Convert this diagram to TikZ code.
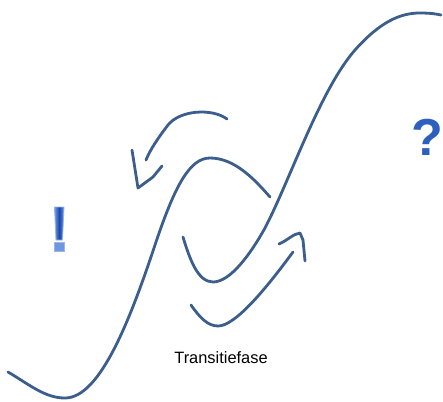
\documentclass[tikz,border=0pt]{standalone}
\usepackage{fontspec}
\setmainfont{Liberation Sans}
\definecolor{curveblue}{RGB}{59,94,140}
\definecolor{markblue}{RGB}{45,95,190}
\definecolor{marklight}{RGB}{110,150,225}
\definecolor{markdark}{RGB}{25,70,170}
\tikzset{
  curve/.style={draw=curveblue, line width=2.8pt, line cap=round, line join=round},
  signmark/.style={text=markblue, inner sep=0pt, anchor=base},
  shadedmark/.style={draw=marklight!70!white, line width=0.8pt, left color=marklight, right color=marklight, middle color=markdark},
  labeltext/.style={font=\fontsize{16.4}{18}\selectfont, inner sep=0pt, anchor=base}
}
\begin{document}
\begin{tikzpicture}[x=1pt, y=-1pt]
\useasboundingbox (0,0) rectangle (443,401);
% first S-curve
\draw[curve] (8,372) .. controls (30,385) and (45,398) .. (65,398)
  .. controls (100,398) and (130,320) .. (155,245)
  .. controls (175,185) and (190,158) .. (210,158)
  .. controls (235,158) and (255,180) .. (270,197);
% second S-curve
\draw[curve] (183,237) .. controls (190,260) and (198,282) .. (213,282)
  .. controls (230,282) and (250,255) .. (265,228)
  .. controls (290,180) and (320,90) .. (355,50)
  .. controls (380,22) and (400,13) .. (420,13)
  .. controls (430,13) and (437,14) .. (441,15);
% upper arrow
\draw[curve] (227,119) .. controls (212,108) and (180,110) .. (168,125)
  .. controls (158,138) and (150,150) .. (146,160);
\draw[curve] (132,150) -- (138,188) -- (153,177) -- (162,166);
% lower arrow
\draw[curve] (191,305) .. controls (200,318) and (208,326) .. (218,326)
  .. controls (235,326) and (265,290) .. (293,252);
\draw[curve] (279,244) .. controls (288,240) and (293,234) .. (300,233)
  -- (303,240) -- (305,261);
% exclamation mark
\shade[shadedmark] (54.5,207) -- (64,207) -- (62.5,240) -- (56,240) -- cycle;
\shade[shadedmark, middle color=marklight] (54.5,242.5) rectangle (64,251);
% question mark
\node[signmark, font=\fontsize{52}{52}\selectfont\bfseries] (quest) at (427,155) {?};
\node[labeltext] (trans) at (221,363) {Transitiefase};
\end{tikzpicture}
\end{document}
